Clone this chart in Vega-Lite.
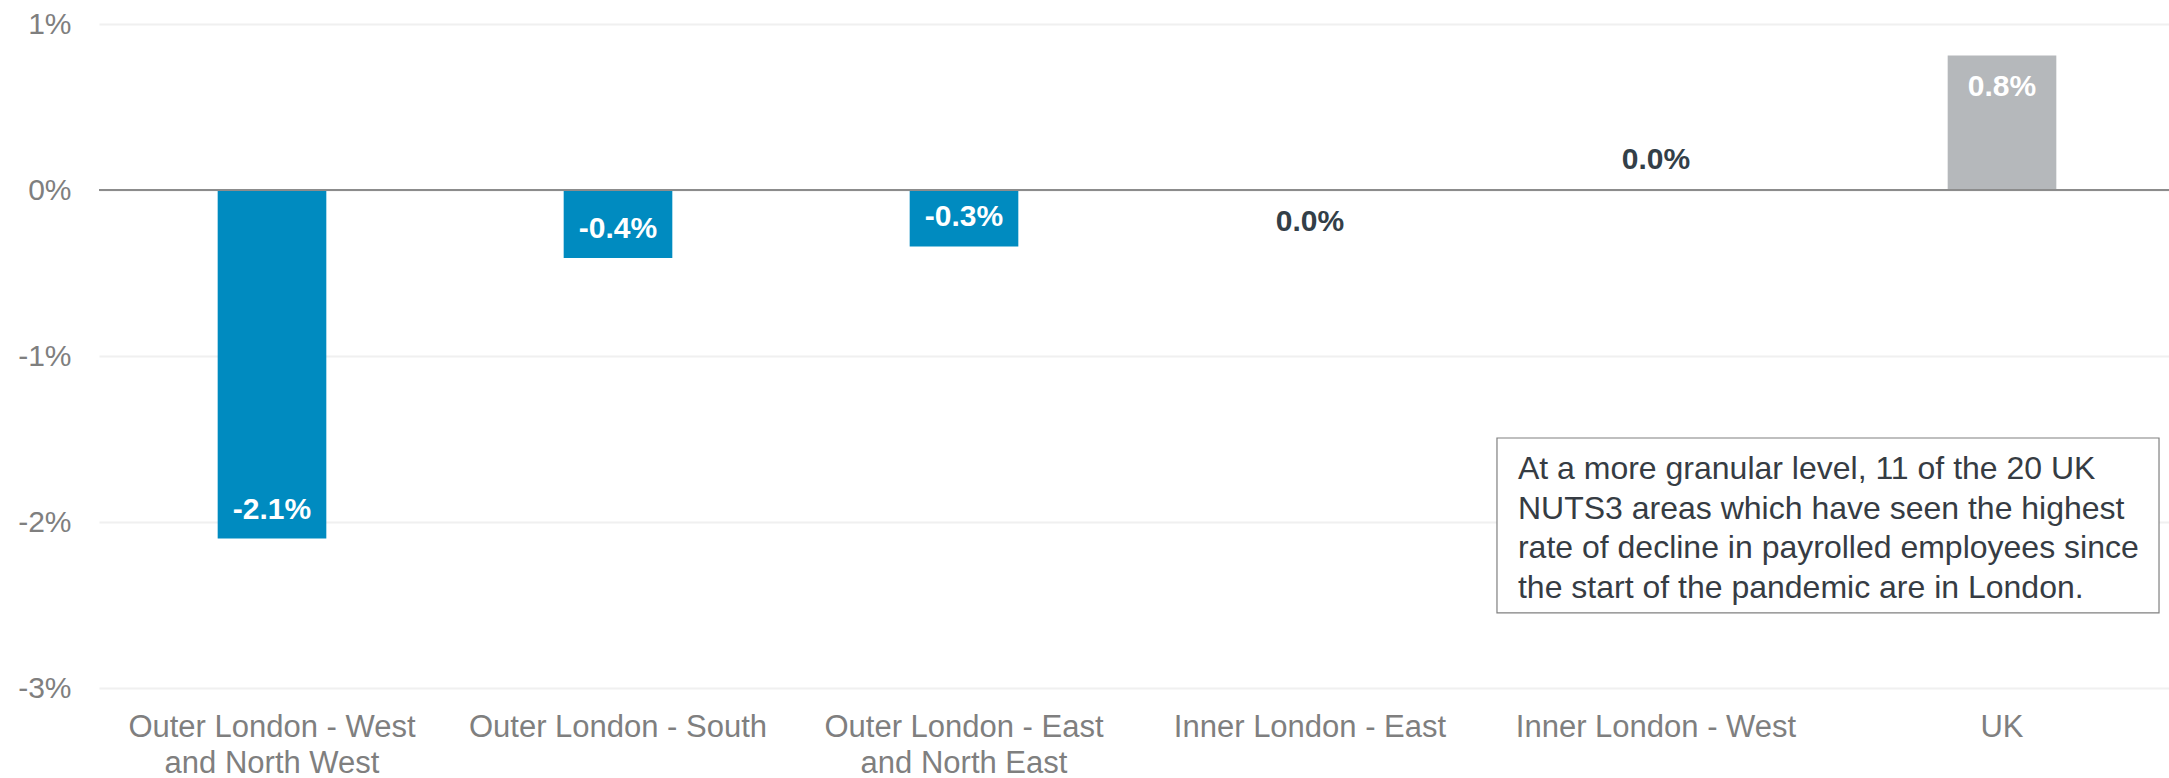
{
  "$schema": "https://vega.github.io/schema/vega-lite/v6.json",
  "width": 2076,
  "height": 664,
  "autosize": {"type": "none"},
  "padding": {"left": 99, "top": 24, "right": 0, "bottom": 90},
  "background": "white",
  "config": {
    "view": {"stroke": null},
    "font": "Liberation Sans"
  },
  "layer": [
    {
      "data": {"name": "main", "values": [
        {"area": "Outer London - West|and North West", "value": -2.1, "label": "-2.1%", "group": "London"},
        {"area": "Outer London - South", "value": -0.41, "label": "-0.4%", "group": "London"},
        {"area": "Outer London - East|and North East", "value": -0.34, "label": "-0.3%", "group": "London"},
        {"area": "Inner London - East", "value": -0.002, "label": "0.0%", "group": "London"},
        {"area": "Inner London - West", "value": 0.006, "label": "0.0%", "group": "London"},
        {"area": "UK", "value": 0.81, "label": "0.8%", "group": "UK"}
      ]},
      "encoding": {
        "x": {
          "field": "area", "type": "nominal", "sort": null,
          "scale": {"paddingInner": 0.686, "paddingOuter": 0.343},
          "axis": {
            "title": null, "labelAngle": 0, "ticks": false, "domain": false,
            "labelExpr": "split(datum.value, '|')",
            "labelFont": "Liberation Sans", "labelFontSize": 31, "labelLimit": 0,
            "labelColor": "#7F7F7F", "labelPadding": 24, "labelLineHeight": 36,
            "labelBaseline": "top"
          }
        },
        "y": {
          "field": "value", "type": "quantitative",
          "scale": {"domain": [-3, 1], "nice": false, "zero": false},
          "axis": {
            "title": null, "values": [-3, -2, -1, 0, 1], "ticks": false, "domain": false,
            "labelExpr": "datum.value + '%'",
            "labelFont": "Liberation Sans", "labelFontSize": 30,
            "labelColor": "#7F7F7F", "labelPadding": 28,
            "gridColor": "#F0F0F0", "gridWidth": 2
          }
        }
      },
      "layer": [
        {
          "mark": {"type": "bar"},
          "encoding": {
            "y2": {"datum": 0},
            "color": {
              "field": "group", "type": "nominal",
              "scale": {"domain": ["London", "UK"], "range": ["#008BC0", "#B5B8BB"]},
              "legend": null
            }
          }
        },
        {
          "transform": [{"filter": "datum.value < -0.1"}],
          "mark": {"type": "text", "fontWeight": "bold", "fontSize": 30, "baseline": "middle", "align": "center", "dy": -29, "color": "#FFFFFF"},
          "encoding": {"text": {"field": "label"}}
        },
        {
          "transform": [{"filter": "datum.value > 0.1"}],
          "mark": {"type": "text", "fontWeight": "bold", "fontSize": 30, "baseline": "middle", "align": "center", "dy": 31, "color": "#FFFFFF"},
          "encoding": {"text": {"field": "label"}}
        },
        {
          "transform": [{"filter": "datum.value > 0 && datum.value <= 0.1"}],
          "mark": {"type": "text", "fontWeight": "bold", "fontSize": 30, "baseline": "middle", "align": "center", "dy": -29, "color": "#333F48"},
          "encoding": {"text": {"field": "label"}}
        },
        {
          "transform": [{"filter": "datum.value <= 0 && datum.value >= -0.1"}],
          "mark": {"type": "text", "fontWeight": "bold", "fontSize": 30, "baseline": "middle", "align": "center", "dy": 32, "color": "#333F48"},
          "encoding": {"text": {"field": "label"}}
        }
      ]
    },
    {
      "data": {"values": [{"v": 0}]},
      "mark": {"type": "rule", "color": "#8C8C8C", "strokeWidth": 2},
      "encoding": {"y": {"field": "v", "type": "quantitative"}}
    },
    {
      "data": {"values": [{"x1": 0.6734, "x2": 0.9923, "y1": -1.494, "y2": -2.548}]},
      "mark": {"type": "rect", "fill": "white", "stroke": "#808080", "strokeWidth": 1.2},
      "encoding": {
        "x": {"field": "x1", "type": "quantitative", "scale": {"domain": [0, 1]}, "axis": null},
        "x2": {"field": "x2"},
        "y": {"field": "y1", "type": "quantitative"},
        "y2": {"field": "y2"}
      }
    },
    {
      "data": {"values": [{"x": 0.6835, "y": -1.741, "note": "At a more granular level, 11 of the 20 UK|NUTS3 areas which have seen the highest|rate of decline in payrolled employees since|the start of the pandemic are in London."}]},
      "mark": {"type": "text", "align": "left", "baseline": "alphabetic", "lineBreak": "|", "lineHeight": 39.7, "fontSize": 32, "color": "#363C43", "font": "Liberation Sans"},
      "encoding": {
        "x": {"field": "x", "type": "quantitative", "scale": {"domain": [0, 1]}, "axis": null},
        "y": {"field": "y", "type": "quantitative"},
        "text": {"field": "note"}
      }
    }
  ],
  "resolve": {"scale": {"x": "independent"}}
}
